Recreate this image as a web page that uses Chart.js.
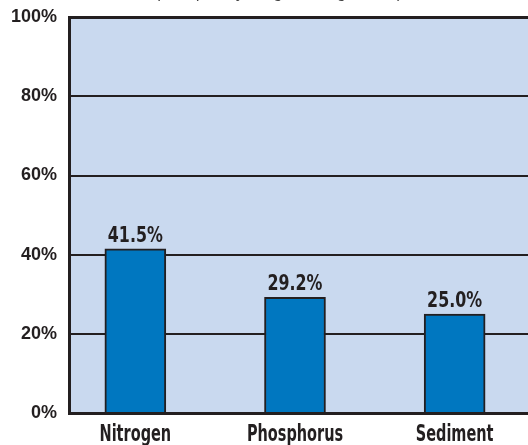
<!DOCTYPE html>
<html>
<head>
<meta charset="utf-8">
<script src="https://cdn.jsdelivr.net/npm/chart.js@4.4.1/dist/chart.umd.min.js"></script>
<style>
  html, body { margin: 0; padding: 0; background: #fff; overflow: hidden; width: 528px; height: 445px; }
  #wrap { position: absolute; left: 0; top: -16px; width: 560px; height: 461px; }
</style>
</head>
<body>
<div id="wrap"><canvas id="reductionChart" width="560" height="461"></canvas></div>
<script>
// ============================
// DATA
// ============================
const categories = ['Nitrogen', 'Phosphorus', 'Sediment'];
const reductions = [41.5, 29.2, 25.0];
const yTicks = [0, 20, 40, 60, 80, 100];

const condensed = "'DejaVu Sans Condensed', 'Liberation Sans Narrow', sans-serif";
const ink = '#231f20';

// draw text squeezed horizontally (the original uses a heavy condensed face)
function squeezedText(ctx, text, x, y, sx) {
    ctx.save();
    ctx.translate(x, y);
    ctx.scale(sx, 1);
    ctx.fillText(text, 0, 0);
    ctx.restore();
}

// ============================
// VALUE LABELS + CATEGORY LABELS
// ============================
const barLabels = {
    id: 'barLabels',
    afterDatasetsDraw(chart) {
        const { ctx, chartArea } = chart;
        const meta = chart.getDatasetMeta(0);
        const xScale = chart.scales.x;
        ctx.save();
        ctx.fillStyle = ink;
        ctx.textAlign = 'center';
        ctx.textBaseline = 'alphabetic';

        ctx.font = 'bold 21px ' + condensed;
        meta.data.forEach((bar, i) => {
            squeezedText(ctx, reductions[i].toFixed(1) + '%', bar.x, bar.y - 7, 0.84);
        });

        ctx.font = 'bold 23px ' + condensed;
        categories.forEach((c, i) => {
            squeezedText(ctx, c, xScale.getPixelForValue(i), chartArea.bottom + 28, 0.7);
        });
        ctx.restore();
    }
};

const plotBackground = {
    id: 'plotBackground',
    beforeDraw(chart) {
        const { ctx, chartArea: a } = chart;
        ctx.save();
        ctx.fillStyle = '#c9d9ef';
        ctx.fillRect(a.left, a.top, a.right - a.left, a.bottom - a.top);
        ctx.restore();
    }
};

// ============================
// CHART
// ============================
new Chart(document.getElementById('reductionChart'), {
    type: 'bar',
    data: {
        datasets: [{
            data: categories.map((c, i) => ({ x: i, y: reductions[i] })),
            backgroundColor: '#0077c0',
            borderColor: ink,
            borderWidth: 2,
            borderSkipped: 'bottom',
            barThickness: 61
        }]
    },
    options: {
        responsive: false,
        animation: false,
        layout: { padding: 0 },
        plugins: {
            legend: { display: false },
            tooltip: { enabled: false },
            title: {
                display: true,
                text: '(Grouped by Program Target Area)',
                color: '#444',
                font: { family: 'Arial, Liberation Sans, sans-serif', size: 16, style: 'italic', weight: 'normal' },
                padding: { top: 0, bottom: 14 }
            }
        },
        scales: {
            x: {
                type: 'linear',
                offset: false,
                min: -0.4156,
                max: 2.66,
                afterFit: (s) => { s.height = 32; },
                ticks: { display: false, stepSize: 1 },
                grid: { display: false, offset: false },
                border: { color: ink, width: 3 }
            },
            y: {
                min: 0,
                max: 100,
                afterFit: (s) => { s.width = 69; },
                afterBuildTicks: (s) => { s.ticks = yTicks.map(v => ({ value: v })); },
                ticks: {
                    padding: 12,
                    color: ink,
                    font: { family: 'Arial, Liberation Sans, sans-serif', size: 18, weight: 'bold' },
                    callback: (v) => v + '%'
                },
                grid: {
                    color: ink,
                    lineWidth: (c) => c.tick && c.tick.value === 100 ? 3 : 2,
                    drawTicks: false
                },
                border: { color: ink, width: 3 }
            }
        }
    },
    plugins: [plotBackground, barLabels]
});
</script>
</body>
</html>
